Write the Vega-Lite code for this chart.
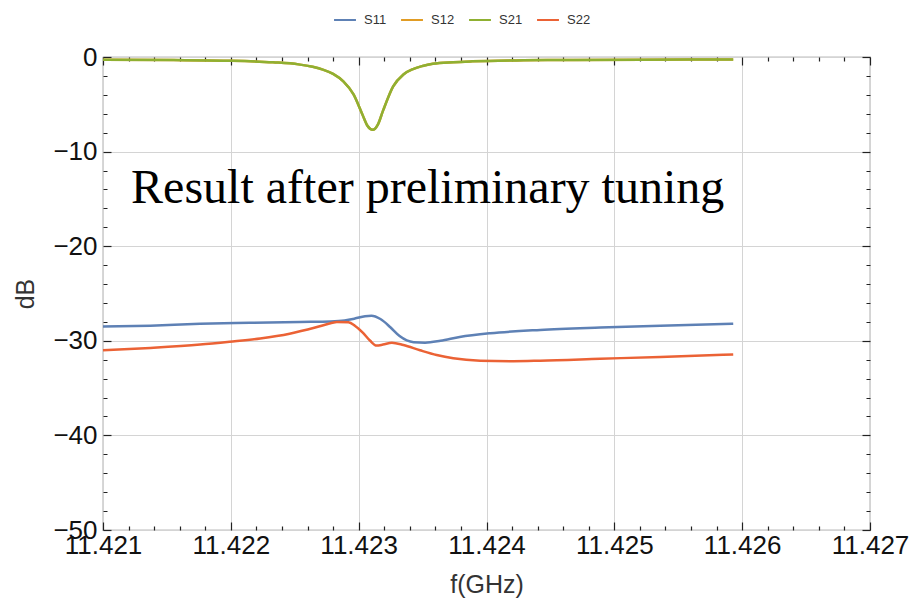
{
  "$schema": "https://vega.github.io/schema/vega-lite/v6.json",
  "width": 767,
  "height": 473,
  "autosize": {"type": "none"},
  "padding": {"left": 103, "top": 57, "right": 45, "bottom": 73},
  "background": "white",
  "config": {
    "font": "Liberation Sans",
    "view": {"stroke": "#7a7a7a", "strokeWidth": 1.2}
  },
  "datasets": {
    "sparams": [
      {"s": "S11", "f": 11.42100, "dB": -28.5},
      {"s": "S11", "f": 11.42137, "dB": -28.4},
      {"s": "S11", "f": 11.42176, "dB": -28.2},
      {"s": "S11", "f": 11.42215, "dB": -28.1},
      {"s": "S11", "f": 11.42254, "dB": -28.0},
      {"s": "S11", "f": 11.42278, "dB": -27.95},
      {"s": "S11", "f": 11.42289, "dB": -27.85},
      {"s": "S11", "f": 11.42297, "dB": -27.65},
      {"s": "S11", "f": 11.42305, "dB": -27.4},
      {"s": "S11", "f": 11.42310, "dB": -27.35},
      {"s": "S11", "f": 11.42317, "dB": -27.7},
      {"s": "S11", "f": 11.42325, "dB": -28.6},
      {"s": "S11", "f": 11.42332, "dB": -29.5},
      {"s": "S11", "f": 11.42343, "dB": -30.15},
      {"s": "S11", "f": 11.42352, "dB": -30.2},
      {"s": "S11", "f": 11.42364, "dB": -30.0},
      {"s": "S11", "f": 11.42379, "dB": -29.6},
      {"s": "S11", "f": 11.42403, "dB": -29.2},
      {"s": "S11", "f": 11.42442, "dB": -28.85},
      {"s": "S11", "f": 11.42489, "dB": -28.6},
      {"s": "S11", "f": 11.42536, "dB": -28.4},
      {"s": "S11", "f": 11.42593, "dB": -28.2},

      {"s": "S12", "f": 11.42100, "dB": -0.29},
      {"s": "S12", "f": 11.42155, "dB": -0.33},
      {"s": "S12", "f": 11.42194, "dB": -0.39},
      {"s": "S12", "f": 11.42233, "dB": -0.56},
      {"s": "S12", "f": 11.42253, "dB": -0.78},
      {"s": "S12", "f": 11.42264, "dB": -1.04},
      {"s": "S12", "f": 11.42272, "dB": -1.33},
      {"s": "S12", "f": 11.42280, "dB": -1.79},
      {"s": "S12", "f": 11.42288, "dB": -2.58},
      {"s": "S12", "f": 11.42296, "dB": -3.96},
      {"s": "S12", "f": 11.42303, "dB": -6.1},
      {"s": "S12", "f": 11.42307, "dB": -7.3},
      {"s": "S12", "f": 11.42311, "dB": -7.7},
      {"s": "S12", "f": 11.42315, "dB": -7.15},
      {"s": "S12", "f": 11.42319, "dB": -5.7},
      {"s": "S12", "f": 11.42327, "dB": -3.1},
      {"s": "S12", "f": 11.42335, "dB": -1.85},
      {"s": "S12", "f": 11.42343, "dB": -1.25},
      {"s": "S12", "f": 11.42350, "dB": -0.95},
      {"s": "S12", "f": 11.42358, "dB": -0.72},
      {"s": "S12", "f": 11.42374, "dB": -0.55},
      {"s": "S12", "f": 11.42389, "dB": -0.46},
      {"s": "S12", "f": 11.42429, "dB": -0.35},
      {"s": "S12", "f": 11.42468, "dB": -0.31},
      {"s": "S12", "f": 11.42522, "dB": -0.28},
      {"s": "S12", "f": 11.42593, "dB": -0.27},

      {"s": "S21", "f": 11.42100, "dB": -0.29},
      {"s": "S21", "f": 11.42155, "dB": -0.33},
      {"s": "S21", "f": 11.42194, "dB": -0.39},
      {"s": "S21", "f": 11.42233, "dB": -0.56},
      {"s": "S21", "f": 11.42253, "dB": -0.78},
      {"s": "S21", "f": 11.42264, "dB": -1.04},
      {"s": "S21", "f": 11.42272, "dB": -1.33},
      {"s": "S21", "f": 11.42280, "dB": -1.79},
      {"s": "S21", "f": 11.42288, "dB": -2.58},
      {"s": "S21", "f": 11.42296, "dB": -3.96},
      {"s": "S21", "f": 11.42303, "dB": -6.1},
      {"s": "S21", "f": 11.42307, "dB": -7.3},
      {"s": "S21", "f": 11.42311, "dB": -7.7},
      {"s": "S21", "f": 11.42315, "dB": -7.15},
      {"s": "S21", "f": 11.42319, "dB": -5.7},
      {"s": "S21", "f": 11.42327, "dB": -3.1},
      {"s": "S21", "f": 11.42335, "dB": -1.85},
      {"s": "S21", "f": 11.42343, "dB": -1.25},
      {"s": "S21", "f": 11.42350, "dB": -0.95},
      {"s": "S21", "f": 11.42358, "dB": -0.72},
      {"s": "S21", "f": 11.42374, "dB": -0.55},
      {"s": "S21", "f": 11.42389, "dB": -0.46},
      {"s": "S21", "f": 11.42429, "dB": -0.35},
      {"s": "S21", "f": 11.42468, "dB": -0.31},
      {"s": "S21", "f": 11.42522, "dB": -0.28},
      {"s": "S21", "f": 11.42593, "dB": -0.27},

      {"s": "S22", "f": 11.42100, "dB": -31.0},
      {"s": "S22", "f": 11.42137, "dB": -30.75},
      {"s": "S22", "f": 11.42176, "dB": -30.4},
      {"s": "S22", "f": 11.42199, "dB": -30.1},
      {"s": "S22", "f": 11.42223, "dB": -29.75},
      {"s": "S22", "f": 11.42246, "dB": -29.25},
      {"s": "S22", "f": 11.42266, "dB": -28.6},
      {"s": "S22", "f": 11.42278, "dB": -28.15},
      {"s": "S22", "f": 11.42283, "dB": -28.0},
      {"s": "S22", "f": 11.42292, "dB": -28.05},
      {"s": "S22", "f": 11.42297, "dB": -28.4},
      {"s": "S22", "f": 11.42303, "dB": -29.1},
      {"s": "S22", "f": 11.42309, "dB": -30.0},
      {"s": "S22", "f": 11.42314, "dB": -30.5},
      {"s": "S22", "f": 11.42319, "dB": -30.4},
      {"s": "S22", "f": 11.42326, "dB": -30.2},
      {"s": "S22", "f": 11.42335, "dB": -30.45},
      {"s": "S22", "f": 11.42348, "dB": -31.0},
      {"s": "S22", "f": 11.42361, "dB": -31.5},
      {"s": "S22", "f": 11.42374, "dB": -31.85},
      {"s": "S22", "f": 11.42395, "dB": -32.1},
      {"s": "S22", "f": 11.42421, "dB": -32.15},
      {"s": "S22", "f": 11.42442, "dB": -32.1},
      {"s": "S22", "f": 11.42489, "dB": -31.9},
      {"s": "S22", "f": 11.42536, "dB": -31.7},
      {"s": "S22", "f": 11.42593, "dB": -31.45}
    ],
    "note": [
      {"f": 11.42354, "dB": -15.45, "label": "Result after preliminary tuning"}
    ]
  },
  "layer": [
    {
      "data": {"name": "sparams"},
      "mark": {"type": "line", "strokeWidth": 2.5, "interpolate": "monotone"},
      "encoding": {
        "x": {
          "field": "f", "type": "quantitative",
          "scale": {"domain": [11.421, 11.427], "nice": false, "zero": false},
          "axis": {
            "orient": "bottom",
            "offset": -8,
            "values": [11.421, 11.4212, 11.4214, 11.4216, 11.4218, 11.422, 11.4222, 11.4224, 11.4226, 11.4228, 11.423, 11.4232, 11.4234, 11.4236, 11.4238, 11.424, 11.4242, 11.4244, 11.4246, 11.4248, 11.425, 11.4252, 11.4254, 11.4256, 11.4258, 11.426, 11.4262, 11.4264, 11.4266, 11.4268, 11.427],
            "labelExpr": "abs(datum.value*1000 - round(datum.value*1000)) < 0.01 ? format(datum.value, '.3f') : ''",
            "labelFontSize": 26,
            "labelColor": "#111",
            "labelFlush": false,
            "labelOverlap": false,
            "labelBound": false,
            "labelPadding": 2,
            "domain": false,
            "ticks": true,
            "tickColor": "#222",
            "tickWidth": 1.2,
            "tickSize": 8,
            "tickDash": {"condition": {"test": "abs(datum.value*1000 - round(datum.value*1000)) < 0.01", "value": [10, 0]}, "value": [0, 4, 4]},
            "grid": true,
            "gridColor": "#d4d4d4",
            "gridWidth": 1,
            "gridOpacity": {"condition": {"test": "abs(datum.value*1000 - round(datum.value*1000)) < 0.01", "value": 1}, "value": 0},
            "title": "f(GHz)",
            "titleFontSize": 25,
            "titleFontWeight": "normal",
            "titleColor": "#333",
            "titlePadding": 14
          }
        },
        "y": {
          "field": "dB", "type": "quantitative",
          "scale": {"domain": [-50, 0], "nice": false, "zero": false},
          "axis": {
            "orient": "left",
            "offset": -8,
            "values": [-50, -48, -46, -44, -42, -40, -38, -36, -34, -32, -30, -28, -26, -24, -22, -20, -18, -16, -14, -12, -10, -8, -6, -4, -2, 0],
            "labelExpr": "datum.value % 10 == 0 ? format(datum.value, 'd') : ''",
            "labelFontSize": 26,
            "labelColor": "#111",
            "labelFlush": false,
            "labelOverlap": false,
            "labelBound": false,
            "labelPadding": 6,
            "domain": false,
            "ticks": true,
            "tickColor": "#222",
            "tickWidth": 1.2,
            "tickSize": 8,
            "tickDash": {"condition": {"test": "datum.value % 10 == 0", "value": [10, 0]}, "value": [0, 4, 4]},
            "grid": true,
            "gridColor": "#d4d4d4",
            "gridWidth": 1,
            "gridOpacity": {"condition": {"test": "datum.value % 10 == 0", "value": 1}, "value": 0},
            "title": "dB",
            "titleFontSize": 25,
            "titleFontWeight": "normal",
            "titleColor": "#333",
            "titlePadding": 14
          }
        },
        "color": {
          "field": "s", "type": "nominal",
          "scale": {"domain": ["S11", "S12", "S21", "S22"], "range": ["#5E81B5", "#E19C24", "#8FB032", "#EB6235"]},
          "legend": {
            "orient": "none",
            "legendX": 230,
            "legendY": -49,
            "direction": "horizontal",
            "title": null,
            "symbolType": "stroke",
            "symbolStrokeWidth": 2,
            "symbolSize": 480,
            "labelFontSize": 13,
            "labelColor": "#333",
            "labelOffset": 7,
            "columnPadding": 10
          }
        }
      }
    },
    {
      "data": {"name": "note"},
      "mark": {"type": "text", "font": "Liberation Serif", "fontSize": 48, "align": "center", "baseline": "alphabetic", "color": "#000"},
      "encoding": {
        "x": {
          "field": "f", "type": "quantitative",
          "scale": {"domain": [11.421, 11.427], "nice": false, "zero": false},
          "axis": {
            "orient": "top",
            "offset": -8,
            "values": [11.421, 11.4212, 11.4214, 11.4216, 11.4218, 11.422, 11.4222, 11.4224, 11.4226, 11.4228, 11.423, 11.4232, 11.4234, 11.4236, 11.4238, 11.424, 11.4242, 11.4244, 11.4246, 11.4248, 11.425, 11.4252, 11.4254, 11.4256, 11.4258, 11.426, 11.4262, 11.4264, 11.4266, 11.4268, 11.427],
            "labels": false,
            "domain": false,
            "grid": false,
            "title": null,
            "tickColor": "#222",
            "tickWidth": 1.2,
            "tickSize": 8,
            "tickDash": {"condition": {"test": "abs(datum.value*1000 - round(datum.value*1000)) < 0.01", "value": [10, 0]}, "value": [0, 4, 4]}
          }
        },
        "y": {
          "field": "dB", "type": "quantitative",
          "scale": {"domain": [-50, 0], "nice": false, "zero": false},
          "axis": {
            "orient": "right",
            "offset": -8,
            "values": [-50, -48, -46, -44, -42, -40, -38, -36, -34, -32, -30, -28, -26, -24, -22, -20, -18, -16, -14, -12, -10, -8, -6, -4, -2, 0],
            "labels": false,
            "domain": false,
            "grid": false,
            "title": null,
            "tickColor": "#222",
            "tickWidth": 1.2,
            "tickSize": 8,
            "tickDash": {"condition": {"test": "datum.value % 10 == 0", "value": [10, 0]}, "value": [0, 4, 4]}
          }
        },
        "text": {"field": "label", "type": "nominal"}
      }
    }
  ],
  "resolve": {"axis": {"x": "independent", "y": "independent"}}
}
